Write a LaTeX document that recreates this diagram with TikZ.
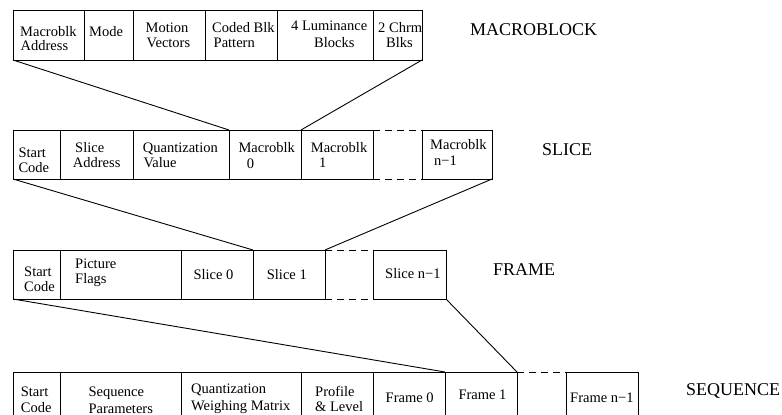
\documentclass[tikz,border=0pt]{standalone}
\usepackage{fontspec}
\setmainfont{Liberation Serif}
\tikzset{
 box/.style={draw, line width=1pt, inner sep=0pt, outer sep=0pt},
 tx/.style={anchor=base west, inner sep=0pt, font=\fontsize{14.5}{14.5}\selectfont},
 lbl/.style={anchor=base west, inner sep=0pt, font=\fontsize{18}{18}\selectfont},
 conn/.style={line width=0.9pt},
 gapline/.style={line width=1pt, dash pattern=on 7pt off 5pt},
}
\newcommand\bx[5]{\node[box, minimum width=#3pt-#2pt, minimum height=#5pt-#4pt] (#1) at ({(#2+#3)/2},{(#4+#5)/2}) {};}
\begin{document}
\begin{tikzpicture}[x=1pt,y=-1pt]
\useasboundingbox (0,0) rectangle (782,415);
% MACROBLOCK row
\bx{mb1}{13}{84}{10}{60}
\bx{mb2}{84}{133}{10}{60}
\bx{mb3}{133}{205}{10}{60}
\bx{mb4}{205}{277}{10}{60}
\bx{mb5}{277}{373}{10}{60}
\bx{mb6}{373}{422}{10}{60}
\node[tx] (t1) at (20,36) {Macroblk};
\node[tx] (t2) at (20.5,50.5) {Address};
\node[tx] (t3) at (89,36) {Mode};
\node[tx] (t4) at (145.5,32) {Motion};
\node[tx] (t5) at (146.5,47.5) {Vectors};
\node[tx] (t6) at (212,32) {Coded Blk};
\node[tx] (t7) at (213.5,47) {Pattern};
\node[tx] (t8) at (291,30) {4 Luminance};
\node[tx] (t9) at (314,47) {Blocks};
\node[tx] (t10) at (378,32) {2 Chrm};
\node[tx] (t11) at (386,47) {Blks};
\node[lbl] (L1) at (470,35) {MACROBLOCK};
% SLICE row
\bx{sl1}{13}{60}{130}{179}
\bx{sl2}{60}{133}{130}{179}
\bx{sl3}{133}{229}{130}{179}
\bx{sl4}{229}{301}{130}{179}
\bx{sl5}{301}{373}{130}{179}
\bx{sl6}{422}{492}{130}{179}
\draw[gapline] (sl5.north east) -- (sl6.north west);
\draw[gapline] (sl5.south east) -- (sl6.south west);
\node[tx] (s1) at (18.3,157.5) {Start};
\node[tx] (s2) at (18.3,172) {Code};
\node[tx] (s3) at (75,152) {Slice};
\node[tx] (s4) at (72.7,167.5) {Address};
\node[tx] (s5) at (142.7,152) {Quantization};
\node[tx] (s6) at (143.3,167.5) {Value};
\node[tx] (s7) at (238.3,152) {Macroblk};
\node[tx] (s8) at (246.7,168.5) {0};
\node[tx] (s9) at (310.7,152) {Macroblk};
\node[tx] (s10) at (319,167) {1};
\node[tx] (s11) at (430,149.5) {Macroblk};
\node[tx] (s12) at (434,165) {n−1};
\node[lbl] (L2) at (542,155.7) {SLICE};
% FRAME row
\bx{fr1}{13}{60}{250}{299}
\bx{fr2}{60}{181}{250}{299}
\bx{fr3}{181}{253}{250}{299}
\bx{fr4}{253}{325}{250}{299}
\bx{fr5}{373}{446}{250}{299}
\draw[gapline] (fr4.north east) -- (fr5.north west);
\draw[gapline] (fr4.south east) -- (fr5.south west);
\node[tx] (f1) at (24,276) {Start};
\node[tx] (f2) at (24,291.7) {Code};
\node[tx] (f3) at (75,268.5) {Picture};
\node[tx] (f4) at (75,283.5) {Flags};
\node[tx] (f5) at (193.3,279.3) {Slice 0};
\node[tx] (f6) at (266.7,279.3) {Slice 1};
\node[tx] (f7) at (385,278.5) {Slice n−1};
\node[lbl] (L3) at (493,275.7) {FRAME};
% SEQUENCE row
\bx{sq1}{13}{60}{372}{428}
\bx{sq2}{60}{181}{372}{428}
\bx{sq3}{181}{301}{372}{428}
\bx{sq4}{301}{373}{372}{428}
\bx{sq5}{373}{445}{372}{428}
\bx{sq6}{445}{517}{372}{428}
\bx{sq7}{566}{638}{372}{428}
\draw[gapline] (sq6.north east) -- (sq7.north west);
\draw[gapline] (sq6.south east) -- (sq7.south west);
\node[tx] (q1) at (20.7,396.7) {Start};
\node[tx] (q2) at (20.7,412.5) {Code};
\node[tx] (q3) at (88.3,396.7) {Sequence};
\node[tx] (q4) at (88.3,413) {Parameters};
\node[tx] (q5) at (191,393.3) {Quantization};
\node[tx] (q6) at (191,410) {Weighing Matrix};
\node[tx] (q7) at (315,396) {Profile};
\node[tx] (q8) at (315,411.7) {\& Level};
\node[tx] (q9) at (385.5,402) {Frame 0};
\node[tx] (q10) at (458.3,399) {Frame 1};
\node[tx] (q11) at (570,402) {Frame n−1};
\node[lbl] (L4) at (686,395.7) {SEQUENCE};
% connectors
\draw[conn] (mb1.south west) -- (sl4.north west);
\draw[conn] (mb6.south east) -- (sl5.north west);
\draw[conn] (sl1.south west) -- (fr4.north west);
\draw[conn] (sl6.south east) -- (fr4.north east);
\draw[conn] (fr1.south west) -- (sq6.north west);
\draw[conn] (fr5.south east) -- (sq6.north east);
\end{tikzpicture}
\end{document}
